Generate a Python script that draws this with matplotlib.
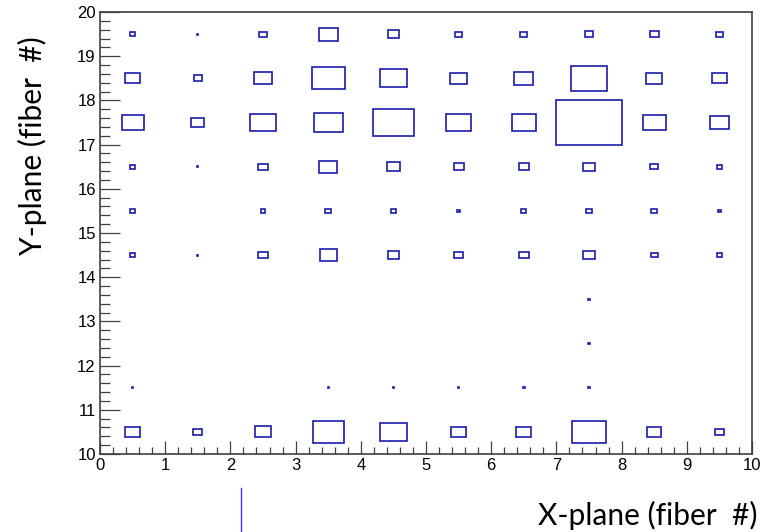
import matplotlib
matplotlib.use("Agg")
import matplotlib.pyplot as plt
from matplotlib.patches import Rectangle
from matplotlib.ticker import MultipleLocator
import numpy as np

# bin centres of the 10 x 10 fiber map
x_centres = [0.5, 1.5, 2.5, 3.5, 4.5, 5.5, 6.5, 7.5, 8.5, 9.5]
y_centres = [19.5, 18.5, 17.5, 16.5, 15.5, 14.5, 13.5, 12.5, 11.5, 10.5]

# relative bin content (1.0 = largest bin), one list per Y row
row_19 = [0.085, 0.02, 0.11, 0.29, 0.17, 0.11, 0.11, 0.12, 0.14, 0.11]
row_18 = [0.22, 0.13, 0.28, 0.50, 0.41, 0.26, 0.29, 0.56, 0.25, 0.22]
row_17 = [0.335, 0.20, 0.40, 0.45, 0.63, 0.39, 0.365, 1.00, 0.355, 0.30]
row_16 = [0.085, 0.02, 0.14, 0.27, 0.20, 0.155, 0.15, 0.18, 0.12, 0.085]
row_15 = [0.08, 0.0, 0.075, 0.10, 0.075, 0.035, 0.075, 0.08, 0.09, 0.035]
row_14 = [0.085, 0.02, 0.145, 0.26, 0.18, 0.145, 0.15, 0.19, 0.105, 0.085]
row_13 = [0, 0, 0, 0, 0, 0, 0, 0.02, 0, 0]
row_12 = [0, 0, 0, 0, 0, 0, 0, 0.02, 0, 0]
row_11 = [0.02, 0, 0, 0.02, 0.02, 0.02, 0.03, 0.02, 0, 0]
row_10 = [0.23, 0.14, 0.25, 0.48, 0.405, 0.24, 0.23, 0.51, 0.22, 0.145]

rows = [row_19, row_18, row_17, row_16, row_15, row_14, row_13, row_12, row_11, row_10]

box_col = "#1c1caa"
frame_col = "#404040"

fig = plt.figure(figsize=(7.73, 5.32), dpi=100)
W, H = 773, 532
ax = fig.add_axes([100 / W, 1 - 454 / H, (752 - 100) / W, (454 - 12) / H])

zmax = max(max(r) for r in rows)
for yc, row in zip(y_centres, rows):
    for xc, z in zip(x_centres, row):
        if z <= 0:
            continue
        s = z / zmax
        ax.add_patch(Rectangle((xc - s / 2, yc - s / 2), s, s,
                               fill=False, edgecolor=box_col, linewidth=1.2))

ax.set_xlim(0, 10)
ax.set_ylim(10, 20)
ax.xaxis.set_major_locator(MultipleLocator(1))
ax.xaxis.set_minor_locator(MultipleLocator(0.2))
ax.yaxis.set_major_locator(MultipleLocator(1))
ax.yaxis.set_minor_locator(MultipleLocator(0.2))

ax.tick_params(axis="x", which="major", direction="in", length=9.4, width=0.9,
               color=frame_col, labelsize=12, pad=3)
ax.tick_params(axis="x", which="minor", direction="in", length=5, width=0.9,
               color=frame_col)
ax.tick_params(axis="y", which="major", direction="in", length=14.4, width=0.9,
               color=frame_col, labelsize=12, pad=3)
ax.tick_params(axis="y", which="minor", direction="in", length=7.2, width=0.9,
               color=frame_col)
for lab in ax.get_xticklabels() + ax.get_yticklabels():
    lab.set_family("Liberation Sans")

for sp in ax.spines.values():
    sp.set_color(frame_col)
    sp.set_linewidth(1.2)

fig.text(757 / W, 1 - 515 / H, "X-plane (fiber  #)", ha="right", va="center",
         fontsize=21.5, family="Lato")
fig.text(32 / W, 1 - 146 / H, "Y-plane (fiber  #)", ha="center", va="center",
         rotation=90, fontsize=21.5, family="Lato")

# stray marker line below the axis
fig.add_artist(plt.Line2D([241 / W, 241 / W], [0, 1 - 488 / H],
                          color="#3a3aee", linewidth=1))

fig.savefig("out.png", dpi=100)
